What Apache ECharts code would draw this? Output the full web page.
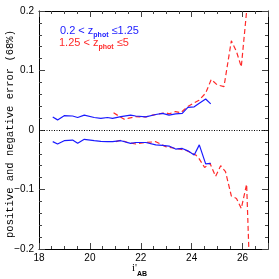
<!DOCTYPE html>
<html><head><meta charset="utf-8">
<script src="https://cdn.jsdelivr.net/npm/echarts@6/dist/echarts.min.js"></script>
<style>html,body{margin:0;padding:0;background:#fff}#c{width:279px;height:279px}</style>
</head><body><div id="c"></div>
<script>
const blueX = [18.54,18.73,18.99,19.32,19.52,19.78,20.17,20.43,20.69,20.89,21.22,21.6,21.8,22.2,22.59,22.85,23.11,23.37,23.63,23.85,24.1,24.3,24.55,24.75];
const blueUpper = [0.022,0.017,0.024,0.0235,0.021,0.025,0.021,0.0196,0.021,0.0196,0.0224,0.025,0.0235,0.022,0.026,0.028,0.025,0.027,0.028,0.038,0.039,0.045,0.052,0.044];
const blueLower = [-0.0196,-0.0235,-0.018,-0.017,-0.0224,-0.0157,-0.018,-0.019,-0.0196,-0.0196,-0.018,-0.0224,-0.021,-0.021,-0.025,-0.026,-0.027,-0.032,-0.031,-0.035,-0.042,-0.025,-0.057,-0.056];
const redUpperX = [20.93,21.08,21.35,21.54,21.8,22.2,22.46,22.72,22.98,23.11,23.37,23.57,23.83,24.03,24.29,24.55,24.77,25.0,25.27,25.56,25.76,25.95,26.25];
const redUpper = [0.029,0.025,0.018,0.020,0.0224,0.022,0.025,0.027,0.029,0.027,0.031,0.029,0.039,0.044,0.050,0.062,0.085,0.076,0.073,0.150,0.132,0.106,0.24];
const redLowerX = [21.02,21.22,21.48,21.8,22.2,22.59,22.98,23.37,23.77,24.16,24.29,24.51,24.72,24.94,25.14,25.33,25.56,25.76,25.95,26.16,26.35];
const redLower = [-0.0196,-0.017,-0.021,-0.0235,-0.021,-0.0196,-0.028,-0.031,-0.034,-0.042,-0.048,-0.063,-0.056,-0.078,-0.060,-0.070,-0.111,-0.115,-0.132,-0.091,-0.33];
const xTicks = [18,20,22,24,26];
const yTicks = [-0.2,-0.1,0,0.1,0.2];

const chart = echarts.init(document.getElementById('c'));
const font = 'Liberation Sans';
function xAx(pos, show){
  return {type:'value', min:18, max:27, interval:2, position:pos,
    axisLine:{show:true, onZero:false, lineStyle:{color:'#000', width:1}},
    axisTick:{show:true, inside:true, length:6, lineStyle:{color:'#444'}},
    minorTick:{show:true, splitNumber:4, length:3, lineStyle:{color:'#444'}},
    splitLine:{show:false},
    axisLabel:{show:show, color:'#000', fontSize:10, fontFamily:font, margin:4,
      formatter: v => xTicks.includes(v) ? String(v) : ''}};
}
function yAx(pos, show){
  return {type:'value', min:-0.2, max:0.2, interval:0.1, position:pos,
    axisLine:{show:true, onZero:false, lineStyle:{color:'#000', width:1}},
    axisTick:{show:true, inside:true, length:6, lineStyle:{color:'#444'}},
    minorTick:{show:true, splitNumber:5, length:3, lineStyle:{color:'#444'}},
    splitLine:{show:false},
    axisLabel:{show:show, color:'#000', fontSize:10, fontFamily:font, margin:5,
      formatter: v => { const t = yTicks.find(k => Math.abs(k - v) < 1e-9); return t === undefined ? '' : (t === 0 ? '0' : String(t).replace('-', '\u2212')); }}};
}
const pairs = (xs, ys) => xs.map((x,i) => [x, ys[i]]);
const blueStyle = {type:'line', symbol:'none', clip:true, lineStyle:{color:'#1a1aff', width:1.2}, xAxisIndex:0, yAxisIndex:0};
const redStyle = {type:'line', symbol:'none', clip:true, lineStyle:{color:'#ff2a2a', width:1.2, type:[5,3]}, xAxisIndex:0, yAxisIndex:0};
chart.setOption({
  animation:false,
  grid:{left:39, right:11, top:11, bottom:30, containLabel:false},
  xAxis:[xAx('bottom', true), xAx('top', false)],
  yAxis:[yAx('left', true), yAx('right', false)],
  series:[
    Object.assign({}, blueStyle, {data: pairs(blueX, blueUpper), z:3,
      markLine:{silent:true, symbol:'none', label:{show:false}, lineStyle:{color:'#000', type:[1,1.5], width:1}, data:[{yAxis:0}]}}),
    Object.assign({}, blueStyle, {data: pairs(blueX, blueLower), z:3}),
    Object.assign({}, redStyle, {data: pairs(redUpperX, redUpper), z:2}),
    Object.assign({}, redStyle, {data: pairs(redLowerX, redLower), z:2})
  ],
  graphic:[
    {type:'text', left:60, top:25, style:{
      text:'{m|0.2 < z}{s|phot}{m| \u22641.25}', fill:'#1a1aff',
      rich:{m:{fontSize:11, fontFamily:font, fill:'#1a1aff', lineHeight:13, verticalAlign:'bottom'},
            s:{fontSize:7, fontFamily:font, fontWeight:'bold', fill:'#1a1aff', lineHeight:13, verticalAlign:'bottom', padding:[0,0,-3,0]}}}},
    {type:'text', left:59, top:37, style:{
      text:'{m|1.25 < z}{s|phot}{m| \u22645}', fill:'#ff2a2a',
      rich:{m:{fontSize:11, fontFamily:font, fill:'#ff2a2a', lineHeight:13, verticalAlign:'bottom'},
            s:{fontSize:7, fontFamily:font, fontWeight:'bold', fill:'#ff2a2a', lineHeight:13, verticalAlign:'bottom', padding:[0,0,-3,0]}}}},
    {type:'text', x:10, y:134, rotation:Math.PI/2, style:{
      text:'positive and negative error (68%)', fill:'#000', fontSize:10.5, fontFamily:'Liberation Mono',
      align:'center', verticalAlign:'middle'}},
    {type:'text', left:132, top:263, style:{
      text:"{m|i'}{s|AB}", rich:{m:{fontSize:11, fontFamily:'Liberation Serif', fill:'#000', lineHeight:12, verticalAlign:'bottom'},
        s:{fontSize:7, fontFamily:font, fontWeight:'bold', fill:'#000', lineHeight:12, verticalAlign:'bottom', padding:[0,0,-4,0]}}}}
  ]
});
</script></body></html>
